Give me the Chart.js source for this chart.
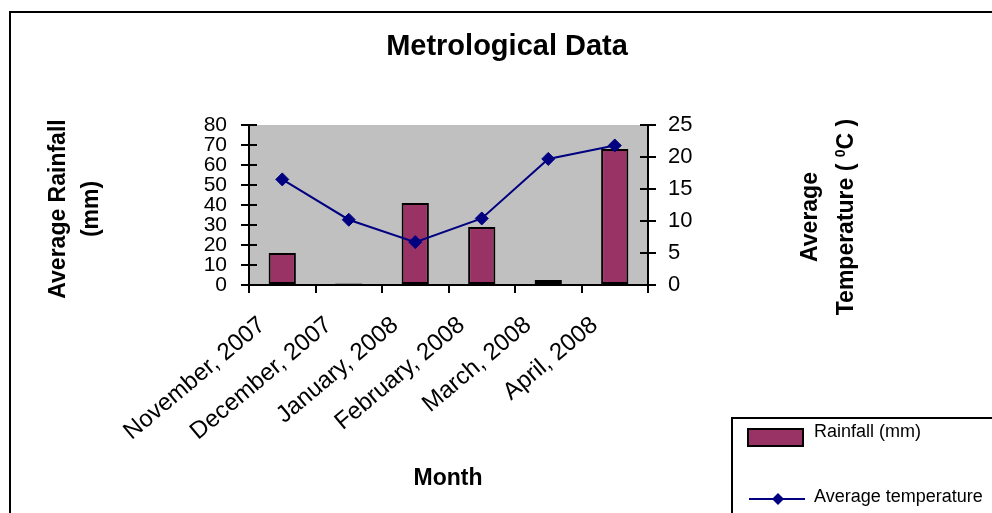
<!DOCTYPE html>
<html>
<head>
<meta charset="utf-8">
<script src="https://cdn.jsdelivr.net/npm/chart.js@4/dist/chart.umd.min.js"></script>
<style>
  html, body { margin: 0; padding: 0; background: #fff; overflow: hidden; }
  #wrap { width: 992px; height: 513px; }
</style>
</head>
<body>
<div id="wrap"><canvas id="chart" width="992" height="513"></canvas></div>
<script>
// Monthly meteorological record
const months = ['November, 2007', 'December, 2007', 'January, 2008', 'February, 2008', 'March, 2008', 'April, 2008'];
const rainfall = [16, 0.8, 41, 29, 2.5, 68];           // mm
const temperature = [16.5, 10.2, 6.7, 10.4, 19.7, 21.8]; // deg C
const rainfallTicks = [0, 10, 20, 30, 40, 50, 60, 70, 80];
const temperatureTicks = [0, 5, 10, 15, 20, 25];

const FONT = "'Liberation Sans', Arial, sans-serif";
const PLOT = { left: 249, top: 125, right: 648, bottom: 285 };
const W = 992, H = 513;

// Backgrounds, frame, axis titles and legend drawn around the chart
const decor = {
  id: 'decor',
  beforeDraw(chart) {
    const { ctx, chartArea: a } = chart;
    ctx.save();
    ctx.fillStyle = '#ffffff';
    ctx.fillRect(0, 0, W, H);
    ctx.fillStyle = '#c0c0c0';
    ctx.fillRect(a.left, a.top, a.right - a.left, a.bottom - a.top);
    ctx.restore();
  },
  afterDraw(chart) {
    const { ctx } = chart;
    ctx.save();

    // tick marks crossing into the plot on both value axes
    ctx.strokeStyle = '#000';
    ctx.lineWidth = 2;
    const yl = chart.scales.y, yr = chart.scales.y1;
    yl.ticks.forEach(t => {
      const py = Math.round(yl.getPixelForValue(t.value));
      ctx.beginPath(); ctx.moveTo(yl.right, py); ctx.lineTo(yl.right + 8, py); ctx.stroke();
    });
    yr.ticks.forEach(t => {
      const py = Math.round(yr.getPixelForValue(t.value));
      ctx.beginPath(); ctx.moveTo(yr.left, py); ctx.lineTo(yr.left - 8, py); ctx.stroke();
    });

    // outer frame
    ctx.lineWidth = 2;
    ctx.strokeRect(10, 12, 1000, 600);

    // title
    ctx.fillStyle = '#000';
    ctx.textAlign = 'center';
    ctx.textBaseline = 'middle';
    ctx.font = `bold 29px ${FONT}`;
    ctx.fillText('Metrological Data', 507, 47);

    // x axis title
    ctx.font = `bold 23px ${FONT}`;
    ctx.fillText('Month', 448, 479);

    // left axis title
    ctx.save();
    ctx.translate(59, 209);
    ctx.rotate(-Math.PI / 2);
    ctx.fillText('Average Rainfall', 0, 0);
    ctx.fillText('(mm)', 0, 33);
    ctx.restore();

    // right axis title, with a raised degree zero
    ctx.save();
    ctx.translate(811, 217);
    ctx.rotate(-Math.PI / 2);
    ctx.fillText('Average', 0, 0);
    const big = `bold 23px ${FONT}`, small = `bold 14px ${FONT}`;
    const p1 = 'Temperature ( ', p2 = '0', p3 = 'C )';
    ctx.font = big; const w1 = ctx.measureText(p1).width, w3 = ctx.measureText(p3).width;
    ctx.font = small; const w2 = ctx.measureText(p2).width;
    let x0 = -(w1 + w2 + w3) / 2;
    ctx.textAlign = 'left';
    ctx.font = big; ctx.fillText(p1, x0, 36);
    ctx.font = small; ctx.fillText(p2, x0 + w1, 30);
    ctx.font = big; ctx.fillText(p3, x0 + w1 + w2, 36);
    ctx.restore();

    // legend
    const ds = chart.data.datasets;
    const bar = ds.find(d => d.type === 'bar');
    const line = ds.find(d => d.type === 'line');
    ctx.fillStyle = '#fff';
    ctx.fillRect(732, 418, 300, 200);
    ctx.strokeStyle = '#000';
    ctx.lineWidth = 2;
    ctx.strokeRect(732, 418, 300, 200);

    ctx.fillStyle = bar.backgroundColor;
    ctx.fillRect(748, 429, 55, 17);
    ctx.strokeRect(748, 429, 55, 17);

    ctx.strokeStyle = line.borderColor;
    ctx.beginPath(); ctx.moveTo(749, 499); ctx.lineTo(805, 499); ctx.stroke();
    ctx.fillStyle = line.backgroundColor;
    ctx.beginPath();
    ctx.moveTo(778, 493); ctx.lineTo(784, 499); ctx.lineTo(778, 505); ctx.lineTo(772, 499);
    ctx.closePath(); ctx.fill();

    ctx.fillStyle = '#000';
    ctx.textAlign = 'left';
    ctx.textBaseline = 'middle';
    ctx.font = `18px ${FONT}`;
    ctx.fillText(bar.label, 814, 432);
    ctx.fillText(line.label, 814, 497);

    ctx.restore();
  }
};

const tickGrid = {
  display: true,
  drawOnChartArea: false,
  drawTicks: true,
  tickLength: 8,
  tickWidth: 2,
  tickColor: '#000',
  color: '#000',
  lineWidth: 2
};

new Chart(document.getElementById('chart'), {
  data: {
    labels: months,
    datasets: [
      {
        type: 'line',
        label: 'Average temperature',
        data: temperature,
        yAxisID: 'y1',
        borderColor: '#000080',
        backgroundColor: '#000080',
        borderWidth: 2,
        tension: 0,
        pointStyle: 'rectRot',
        pointRadius: 6.5,
        pointBorderWidth: 1,
        order: 0
      },
      {
        type: 'bar',
        label: 'Rainfall (mm)',
        data: rainfall,
        yAxisID: 'y',
        backgroundColor: '#993366',
        borderColor: '#000',
        borderWidth: 2,
        borderSkipped: false,
        barPercentage: 0.41,
        categoryPercentage: 1,
        order: 1
      }
    ]
  },
  options: {
    responsive: false,
    animation: false,
    events: [],
    devicePixelRatio: 1,
    layout: { padding: { top: PLOT.top, left: 0, right: 0, bottom: 0 } },
    plugins: {
      legend: { display: false },
      title: { display: false },
      tooltip: { enabled: false }
    },
    scales: {
      x: {
        type: 'category',
        offset: true,
        grid: Object.assign({}, tickGrid, { offset: true }),
        border: { display: true, color: '#000', width: 2 },
        ticks: {
          color: '#000',
          font: { family: FONT, size: 24 },
          minRotation: 40,
          maxRotation: 40,
          autoSkip: false,
          padding: 18,
          labelOffset: -20
        },
        afterFit(s) { s.height = H - PLOT.bottom; }
      },
      y: {
        position: 'left',
        min: rainfallTicks[0],
        max: rainfallTicks[rainfallTicks.length - 1],
        grid: tickGrid,
        border: { display: true, color: '#000', width: 2 },
        ticks: {
          stepSize: rainfallTicks[1] - rainfallTicks[0],
          autoSkip: false,
          color: '#000',
          font: { family: FONT, size: 21 },
          padding: 14
        },
        afterFit(s) { s.width = PLOT.left; }
      },
      y1: {
        position: 'right',
        min: temperatureTicks[0],
        max: temperatureTicks[temperatureTicks.length - 1],
        grid: tickGrid,
        border: { display: true, color: '#000', width: 2 },
        ticks: {
          stepSize: temperatureTicks[1] - temperatureTicks[0],
          autoSkip: false,
          color: '#000',
          font: { family: FONT, size: 22 },
          padding: 12
        },
        afterFit(s) { s.width = W - PLOT.right; }
      }
    }
  },
  plugins: [decor]
});
</script>
</body>
</html>
